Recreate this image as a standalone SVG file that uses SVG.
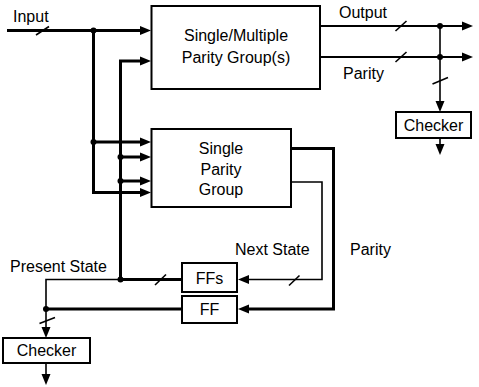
<svg xmlns="http://www.w3.org/2000/svg" width="479" height="387" viewBox="0 0 479 387">
<style>
text{font-family:"Liberation Sans",Arial,sans-serif;font-size:16px;fill:#000}
.c{text-anchor:middle}
.box{fill:#fff;stroke:#000;stroke-width:2}
.w3{fill:none;stroke:#000;stroke-width:3}
.w2{fill:none;stroke:#000;stroke-width:2}
.w1{fill:none;stroke:#000;stroke-width:1.6}
.sl{fill:none;stroke:#000;stroke-width:1.6}
.dot{fill:#000}
</style>
<defs>
<marker id="ah" markerUnits="userSpaceOnUse" markerWidth="12" markerHeight="10" refX="1" refY="4.5" orient="auto" overflow="visible">
<path d="M0,0 L11,4.5 L0,9 z" fill="#000"/>
</marker>
</defs>
<rect width="479" height="387" fill="#fff"/>
<g id="connectors">
<path class="w3" d="M7,30.5 H141" marker-end="url(#ah)"/>
<path class="w3" d="M93.5,30.5 V192.5 H141" marker-end="url(#ah)"/>
<path class="w3" d="M93.5,142 H141" marker-end="url(#ah)"/>
<path class="w3" d="M120.5,279.5 V61 H141" marker-end="url(#ah)"/>
<path class="w3" d="M120.5,157 H141" marker-end="url(#ah)"/>
<path class="w3" d="M120.5,181 H141" marker-end="url(#ah)"/>
<path class="w3" d="M120.5,279.5 H182"/>
<path class="w3" d="M46,309 H182"/>
<path class="w3" d="M291,148.5 H333.5 V309 H248" marker-end="url(#ah)"/>
<path class="w1" d="M120.5,279.5 H46 V328" marker-end="url(#ah)"/>
<path class="w1" d="M291,182 H322 V279.5 H248" marker-end="url(#ah)"/>
<path class="w1" d="M46,363 V375" marker-end="url(#ah)"/>
<path class="w2" d="M320,26 H463" marker-end="url(#ah)"/>
<path class="w2" d="M320,57 H463" marker-end="url(#ah)"/>
<path class="w1" d="M440,26 V102" marker-end="url(#ah)"/>
<path class="w1" d="M440,138 V145" marker-end="url(#ah)"/>
<path class="sl" d="M36,35 L49,26.5"/>
<path class="sl" d="M395.5,31 L406.5,21"/>
<path class="sl" d="M395.5,62 L406.5,52"/>
<path class="sl" d="M432.5,84 L448,77.5"/>
<path class="sl" d="M155,285 L166,274.5"/>
<path class="sl" d="M289,285.5 L299.5,275.5"/>
<path class="sl" d="M39.5,323.5 L55,317.5"/>
<circle class="dot" cx="93.5" cy="30.5" r="3"/>
<circle class="dot" cx="93.5" cy="142" r="3"/>
<circle class="dot" cx="120.5" cy="157" r="3"/>
<circle class="dot" cx="120.5" cy="181" r="3"/>
<circle class="dot" cx="120.5" cy="279.5" r="3"/>
<circle class="dot" cx="46" cy="309" r="3"/>
<circle class="dot" cx="440" cy="26" r="3"/>
<circle class="dot" cx="440" cy="57" r="3"/>
</g>
<g id="labels">
<text x="13" y="22">Input</text>
<text x="339" y="18">Output</text>
<text x="343" y="79">Parity</text>
<text x="235" y="255">Next State</text>
<text x="350" y="255">Parity</text>
<text x="10" y="272">Present State</text>
</g>
<g id="multi-parity">
<rect class="box" x="151.5" y="6" width="168.5" height="83"/>
<text class="c" x="236" y="41">Single/Multiple</text>
<text class="c" x="236" y="63">Parity Group(s)</text>
</g>
<g id="single-parity">
<rect class="box" x="151.5" y="129" width="139.5" height="78"/>
<text class="c" x="221" y="154">Single</text>
<text class="c" x="221" y="175">Parity</text>
<text class="c" x="221" y="195">Group</text>
</g>
<g id="checker-top">
<rect class="box" x="396" y="112" width="75" height="26"/>
<text class="c" x="433.5" y="131">Checker</text>
</g>
<g id="ffs">
<rect class="box" x="182" y="263" width="55" height="29"/>
<text class="c" x="209.5" y="284">FFs</text>
</g>
<g id="ff">
<rect class="box" x="182" y="296" width="55" height="27"/>
<text class="c" x="209.5" y="315">FF</text>
</g>
<g id="checker-bottom">
<rect class="box" x="3" y="338" width="87" height="25"/>
<text class="c" x="46.5" y="356">Checker</text>
</g>
</svg>
